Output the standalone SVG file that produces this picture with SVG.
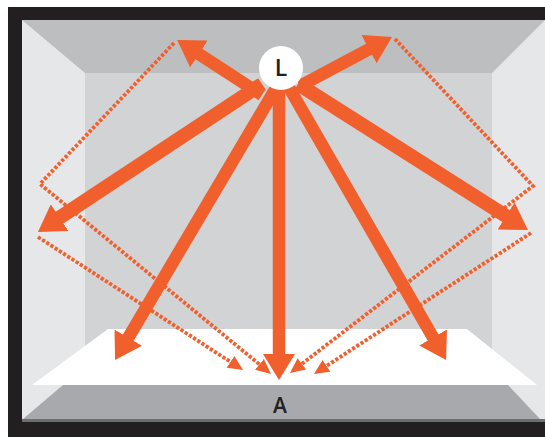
<svg xmlns="http://www.w3.org/2000/svg" width="545" height="437" viewBox="0 0 545 437">
  <style>
    .ray { stroke: #f15f2c; fill: none; stroke-linecap: butt; }
    .direct { stroke-width: 12.5; marker-end: url(#head); }
    .wide { stroke-width: 14; }
    .bounce { stroke-width: 3.8; stroke-dasharray: 3.2 1.8; stroke-linejoin: miter; marker-end: url(#smallhead); }
    .label { font-family: "Open Sans", "Liberation Sans", sans-serif; font-weight: 600; fill: #231f20; text-anchor: middle; }
  </style>
  <defs>
    <marker id="head" markerUnits="userSpaceOnUse" markerWidth="26" markerHeight="32" viewBox="0 0 26 32" refX="1" refY="16" orient="auto">
      <path d="M0,0 L26,16 L0,32 z" fill="#f15f2c"/>
    </marker>
    <marker id="smallhead" markerUnits="userSpaceOnUse" markerWidth="15" markerHeight="14" viewBox="0 0 15 14" refX="1" refY="7" orient="auto">
      <path d="M0,0 L15,7 L0,14 z" fill="#f15f2c"/>
    </marker>
  </defs>

  <!-- room: frame, walls, ceiling, floor -->
  <g id="room">
    <rect x="8" y="7" width="545" height="440" fill="#231f20"/>
    <rect x="22" y="20" width="523" height="402" fill="#e6e7e8"/>
    <polygon points="22,20 545,20 492,73 85,73" fill="#bcbec0"/>
    <rect x="85" y="73" width="407" height="278" fill="#d1d3d4"/>
    <polygon points="108,329 467,329 537,385 32,385" fill="#ffffff"/>
    <polygon points="63,385 508,385 540,419 23,419" fill="#a7a9ac"/>
    <rect x="22" y="419" width="523" height="3" fill="#6d6e71"/>
  </g>

  <!-- light paths: dotted bounces first, direct rays on top -->
  <g id="connectors">
    <polyline class="ray bounce" points="174,43 40,184 260.2,365"/>
    <polyline class="ray bounce" points="38,237 231.3,362.4"/>
    <polyline class="ray bounce" points="395,39 533,186 301.1,364.5"/>
    <polyline class="ray bounce" points="531,233 325.7,366.4"/>

    <line class="ray direct" x1="262" y1="95" x2="198.1" y2="53.5"/>
    <line class="ray direct" x1="300" y1="86" x2="369.9" y2="48.7"/>
    <line class="ray direct wide" x1="262" y1="84" x2="58.8" y2="218.2"/>
    <line class="ray direct" x1="276" y1="88" x2="127.8" y2="338.5"/>
    <line class="ray direct" x1="279" y1="80" x2="279" y2="355"/>
    <line class="ray direct" x1="287" y1="84" x2="433.6" y2="338.3"/>
    <line class="ray direct wide" x1="298" y1="84" x2="506.9" y2="216.6"/>
  </g>

  <g id="light">
    <circle cx="281" cy="68" r="22" fill="#ffffff"/>
    <text class="label" x="281" y="76" font-size="23">L</text>
  </g>

  <g id="area">
    <text class="label" x="280" y="413" font-size="21">A</text>
  </g>
</svg>
